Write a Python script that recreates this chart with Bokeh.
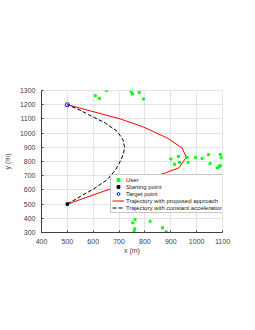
from bokeh.plotting import figure
from bokeh.models import Range1d, SingleIntervalTicker, Legend, LegendItem
from bokeh.embed import file_html
from bokeh.resources import INLINE

user_x = [608, 624, 651, 747, 752, 778, 794, 900, 930, 915, 934, 963, 967, 996, 1021, 1046, 1052,
          1091, 1095, 1091, 1081, 1088, 753, 762, 820, 868, 882, 761, 758]
user_y = [1263, 1244, 1300, 1289, 1275, 1286, 1240, 818, 836, 780, 794, 829, 794, 829, 822, 848, 785,
          850, 827, 771, 755, 766, 368, 391, 379, 333, 305, 326, 309]

start_x = [500]
start_y = [500]
target_x = [500]
target_y = [1200]

prop_x = [500, 667, 828, 879, 931, 960, 944, 886, 789, 706, 500]
prop_y = [500, 607, 689, 720, 755, 829, 895, 966, 1047, 1099, 1200]

const_x = [500, 551, 602, 654, 686, 708, 718, 721, 716, 693, 647, 583, 545, 500]
const_y = [500, 555, 607, 672, 740, 813, 860, 900, 950, 1012, 1071, 1129, 1165, 1200]

x_ticks_interval = 100
y_ticks_interval = 100

FONT = "Liberation Sans"
GRID = "#e3e3e3"
AX = "#404040"

p = figure(width=239, height=314, output_backend="svg", toolbar_location=None,
           x_range=Range1d(400, 1100), y_range=Range1d(300, 1300),
           frame_width=181, frame_height=142,
           min_border_left=40, min_border_top=90, min_border_right=19, min_border_bottom=82)

p.outline_line_color = GRID
p.background_fill_color = "white"
p.border_fill_color = "white"

for ax, interval, label in ((p.xaxis[0], x_ticks_interval, "x (m)"), (p.yaxis[0], y_ticks_interval, "y (m)")):
    ax.ticker = SingleIntervalTicker(interval=interval)
    ax.axis_label = label
    ax.axis_label_text_font = FONT
    ax.axis_label_text_font_size = "7px"
    ax.axis_label_text_font_style = "normal"
    ax.axis_label_text_color = AX
    ax.major_label_text_font = FONT
    ax.major_label_text_font_size = "7px"
    ax.major_label_text_color = AX
    ax.major_label_standoff = 2
    ax.axis_line_color = AX
    ax.major_tick_line_color = AX
    ax.major_tick_in = 2
    ax.major_tick_out = 0
    ax.minor_tick_line_color = None
p.xaxis[0].axis_label_standoff = 0
p.yaxis[0].axis_label_standoff = 6

p.xgrid.grid_line_color = GRID
p.ygrid.grid_line_color = GRID
p.xgrid.ticker = SingleIntervalTicker(interval=x_ticks_interval)
p.ygrid.ticker = SingleIntervalTicker(interval=y_ticks_interval)

r_prop = p.line(prop_x, prop_y, line_color="#ff0000", line_width=1)
r_const = p.line(const_x, const_y, line_color="#000000", line_width=1, line_dash="4 2")
r_user = p.scatter(user_x, user_y, marker="square", size=2, fill_color="#00ff00", line_color="#00ff00")
r_start = p.scatter(start_x, start_y, marker="square", size=2.5, fill_color="#000000", line_color="#000000")
r_target = p.scatter(target_x, target_y, marker="circle", size=4, fill_color=None, line_color="#0000ff", line_width=1)

legend = Legend(items=[
    LegendItem(label="User", renderers=[r_user]),
    LegendItem(label="Starting point", renderers=[r_start]),
    LegendItem(label="Target point", renderers=[r_target]),
    LegendItem(label="Trajectory with proposed approach", renderers=[r_prop]),
    LegendItem(label="Trajectory with constant acceleration", renderers=[r_const]),
], location=(69, 19))
legend.label_text_font = FONT
legend.label_text_font_size = "6px"
legend.label_text_color = "#202020"
legend.label_height = 7
legend.glyph_height = 7
legend.glyph_width = 12
legend.label_standoff = 2
legend.spacing = 0
legend.padding = 1
legend.margin = 0
legend.border_line_color = "#8c8c8c"
legend.border_line_width = 1
legend.background_fill_alpha = 1
p.add_layout(legend, "center")

open("out.html", "w").write(file_html(p, INLINE))
